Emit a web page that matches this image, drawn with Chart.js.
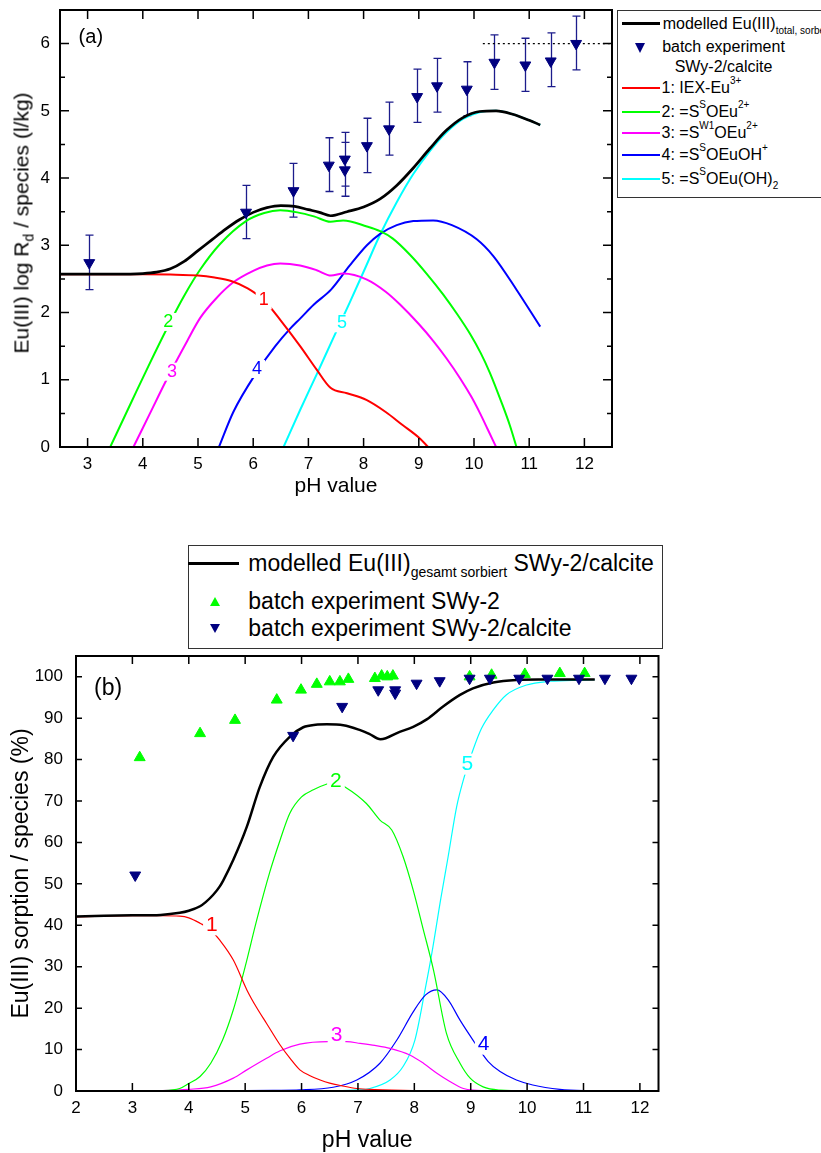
<!DOCTYPE html>
<html><head><meta charset="utf-8">
<script src="https://cdn.jsdelivr.net/npm/chart.js@4.4.1/dist/chart.umd.min.js"></script>
<style>
html,body{margin:0;padding:0;background:#fff;overflow:hidden;width:821px;height:1153px;}
body{position:relative;font-family:'Liberation Sans',Arial,Helvetica,sans-serif;color:#000;}
canvas{position:absolute;left:0;}
#cA{top:0;} #cB{top:520px;}
.abs{position:absolute;white-space:nowrap;}
.box{position:absolute;border:1px solid #333;background:#fff;}
.ln{position:absolute;}
.la{font-size:16px;line-height:20px;}
.lb{font-size:23px;line-height:28px;}
.sp{font-size:10px;vertical-align:9px;line-height:0;}
.sb{font-size:10px;vertical-align:-5px;line-height:0;}
.tri{position:absolute;width:0;height:0;}
</style>
</head>
<body>
<canvas id="cA" width="821" height="520"></canvas>
<canvas id="cB" width="821" height="645"></canvas>

<div class="abs" style="left:21px;top:222.5px;font-size:21px;line-height:21px;transform:translate(-50%,-50%) rotate(-90deg);">Eu(III) log R<span style="font-size:14px;vertical-align:-5px;line-height:0">d</span> / species (l/kg)</div>

<!-- legend (a) -->
<div class="box" style="left:617px;top:10px;width:260px;height:186px;"></div>
<div class="ln" style="left:622px;top:22px;width:38px;height:3px;background:#000"></div>
<div class="abs la" style="left:662.7px;top:13.8px">modelled Eu(III)<span class="sb">total, sorbed</span></div>
<div class="tri" style="left:634.5px;top:43px;border-left:5.5px solid transparent;border-right:5.5px solid transparent;border-top:10px solid #000080"></div>
<div class="abs la" style="left:662px;top:37px;width:123px;text-align:center;line-height:20px">batch experiment<br>SWy-2/calcite</div>
<div class="ln" style="left:622px;top:87.3px;width:38px;height:2px;background:#ff0000"></div>
<div class="abs la" style="left:661.5px;top:78.3px">1: IEX-Eu<span class="sp">3+</span></div>
<div class="ln" style="left:622px;top:110.7px;width:38px;height:2px;background:#00ff00"></div>
<div class="abs la" style="left:661.5px;top:101.7px">2: =S<span class="sp">S</span>OEu<span class="sp">2+</span></div>
<div class="ln" style="left:622px;top:132.3px;width:38px;height:2px;background:#ff00ff"></div>
<div class="abs la" style="left:661.5px;top:123.3px">3: =S<span class="sp">W1</span>OEu<span class="sp">2+</span></div>
<div class="ln" style="left:622px;top:154px;width:38px;height:2px;background:#0000ff"></div>
<div class="abs la" style="left:661.5px;top:145px">4: =S<span class="sp">S</span>OEuOH<span class="sp">+</span></div>
<div class="ln" style="left:622px;top:178.3px;width:38px;height:2px;background:#00ffff"></div>
<div class="abs la" style="left:661.5px;top:169.3px">5: =S<span class="sp">S</span>OEu(OH)<span class="sb">2</span></div>

<!-- legend (b) -->
<div class="box" style="left:188px;top:545px;width:473px;height:102px;"></div>
<div class="ln" style="left:188px;top:562px;width:51px;height:2.5px;background:#000"></div>
<div class="abs lb" style="left:248.3px;top:549.3px">modelled Eu(III)<span style="font-size:14px;vertical-align:-6px;line-height:0">gesamt sorbiert</span> SWy-2/calcite</div>
<div class="tri" style="left:209.5px;top:597px;border-left:5.5px solid transparent;border-right:5.5px solid transparent;border-bottom:9.5px solid #00ff00"></div>
<div class="abs lb" style="left:248.3px;top:587px">batch experiment SWy-2</div>
<div class="tri" style="left:209.5px;top:623.5px;border-left:5.5px solid transparent;border-right:5.5px solid transparent;border-top:9.5px solid #000080"></div>
<div class="abs lb" style="left:248.3px;top:613.8px">batch experiment SWy-2/calcite</div>

<script>
// ================= DATA: panel (a) =================
const A_X_TICKS = [3,4,5,6,7,8,9,10,11,12];
const A_Y_TICKS = [0,1,2,3,4,5,6];
const A_Y_MINOR = [0.5,1.5,2.5,3.5,4.5,5.5];

const A_TOTAL_PH = [2.5,3.0,3.5,4.0,4.25,4.5,4.75,5.0,5.25,5.5,5.75,6.0,6.25,6.5,6.75,7.0,7.2,7.4,7.7,8.0,8.3,8.6,8.9,9.2,9.5,9.8,10.1,10.4,10.7,11.0,11.2];
const A_TOTAL    = [2.57,2.57,2.57,2.58,2.60,2.65,2.76,2.92,3.08,3.24,3.38,3.49,3.56,3.59,3.58,3.53,3.49,3.44,3.50,3.57,3.69,3.89,4.15,4.44,4.71,4.90,4.99,5.00,4.95,4.86,4.79];

const A_IEX_PH = [2.5,3,3.5,4,4.5,5.0,5.3,5.6,5.9,6.2,6.5,6.85,7.15,7.4,7.7,8.05,8.4,8.7,9.0,9.17];
const A_IEX    = [2.57,2.57,2.57,2.57,2.565,2.55,2.52,2.47,2.36,2.18,1.88,1.50,1.15,0.88,0.80,0.70,0.52,0.33,0.14,0];

const A_SSOEU_PH = [3.41,3.8,4.1,4.46,4.75,5.04,5.4,5.87,6.2,6.49,6.8,7.1,7.4,7.63,8.06,8.3,8.53,8.84,9.14,9.44,9.7,9.93,10.12,10.29,10.5,10.65,10.77];
const A_SSOEU    = [0,0.68,1.2,1.80,2.25,2.64,3.02,3.36,3.48,3.52,3.49,3.43,3.35,3.37,3.28,3.21,3.10,2.86,2.58,2.27,1.97,1.68,1.40,1.10,0.66,0.32,0];

const A_SW1_PH = [3.83,4.13,4.43,4.8,5.04,5.34,5.64,6.0,6.25,6.49,6.85,7.15,7.41,7.63,8.06,8.4,8.66,9.0,9.26,9.5,9.75,9.95,10.11,10.25,10.4];
const A_SW1    = [0,0.5,1.0,1.57,1.92,2.22,2.45,2.62,2.70,2.73,2.70,2.63,2.55,2.58,2.49,2.31,2.12,1.83,1.58,1.32,1.02,0.75,0.50,0.26,0];

const A_SSOEUOH_PH = [5.38,5.64,6.07,6.4,6.67,6.85,7.1,7.41,7.75,8.06,8.3,8.6,8.9,9.26,9.6,10.05,10.35,10.77,11.2];
const A_SSOEUOH    = [0,0.52,1.12,1.50,1.76,1.91,2.12,2.34,2.70,3.00,3.17,3.30,3.36,3.37,3.30,3.09,2.84,2.34,1.79];

const A_SSOEUOH2_PH = [6.55,6.85,7.15,7.45,7.75,8.05,8.3,8.6,8.9,9.2,9.5,9.8,10.1,10.4,10.7,11.0,11.2];
const A_SSOEUOH2    = [0,0.55,1.08,1.62,2.15,2.70,3.16,3.64,4.06,4.40,4.68,4.88,4.98,5.00,4.95,4.86,4.79];

const A_EXP_PH = [3.03,5.87,6.73,7.37,7.66,7.66,8.06,8.46,8.97,9.33,9.87,10.37,10.93,11.39,11.85];
const A_EXP    = [2.74,3.49,3.81,4.19,4.28,4.12,4.48,4.73,5.21,5.37,5.32,5.72,5.68,5.74,6.00];
const A_EXP_HI = [3.15,3.89,4.22,4.60,4.68,4.53,4.89,5.13,5.62,5.78,5.73,6.13,6.08,6.16,6.41];
const A_EXP_LO = [2.34,3.10,3.42,3.80,3.88,3.73,4.08,4.34,4.83,4.98,4.93,5.32,5.29,5.36,5.61];

const A_REF_PH = [10.16,12.5];
const A_REF    = [6,6];

const A_LABEL_TEXT = ['1','2','3','4','5'];
const A_LABEL_PH   = [6.19,4.46,4.53,6.07,7.61];
const A_LABEL_VAL  = [2.18,1.86,1.12,1.16,1.84];

// ================= DATA: panel (b) =================
const B_X_TICKS = [2,3,4,5,6,7,8,9,10,11,12];
const B_Y_TICKS = [0,10,20,30,40,50,60,70,80,90,100];

const B_TOTAL_PH = [2,2.5,3,3.5,3.84,4.0,4.2,4.3,4.43,4.55,4.61,4.79,5.03,5.26,5.5,5.79,6.03,6.25,6.45,6.74,7.04,7.2,7.4,7.74,7.98,8.22,8.51,8.81,9.04,9.4,9.81,10.2,10.6,11.0,11.2];
const B_TOTAL    = [42.1,42.3,42.4,42.5,43.0,43.5,44.6,45.6,47.3,49.4,50.8,55.8,63.8,73.4,80.7,85.5,87.8,88.4,88.5,88.3,87.1,86.2,84.9,86.7,87.9,89.7,92.8,95.6,97.2,98.6,99.2,99.3,99.3,99.3,99.3];

const B_IEX_PH = [2,2.5,3,3.5,3.84,4.0,4.2,4.38,4.55,4.79,5.03,5.2,5.38,5.62,5.8,5.97,6.15,6.33,6.5,6.7,6.98,7.3,7.6,7.98,8.5,9,10,11,12];
const B_IEX    = [42.0,42.2,42.3,42.3,42.2,41.8,40.5,39.0,36.4,31.6,24.4,20.2,16.3,11.1,7.8,5.1,3.7,2.65,1.9,1.3,0.6,0.35,0.2,0.1,0.05,0,0,0,0];

const B_SSOEU_PH = [2,3,3.5,3.84,4.0,4.2,4.39,4.6,4.79,5.0,5.2,5.44,5.62,5.79,6.0,6.21,6.45,6.6,6.77,7.15,7.39,7.6,7.8,7.98,8.16,8.34,8.57,8.81,8.99,9.22,9.52,10,11,12];
const B_SSOEU    = [0,0.02,0.1,0.6,1.8,3.5,6.7,12.3,19.6,30,41,53,60.6,67,71,72.7,74.1,74.5,73.4,69.4,65.4,63,56.6,48.5,38.9,29.2,13.9,6.7,3.1,1.0,0.2,0,0,0];

const B_SW1_PH = [2,3,3.5,4.0,4.39,4.79,5.03,5.38,5.62,5.97,6.47,6.8,7.04,7.3,7.57,7.92,8.16,8.4,8.63,8.87,9.04,9.5,10,11,12];
const B_SW1    = [0,0.02,0.1,0.4,1.0,3.1,5.1,7.9,9.7,11.3,11.9,11.9,11.5,11.0,10.3,8.7,6.7,4.3,2.3,0.6,0.2,0.05,0,0,0];

const B_SSOEUOH_PH = [2,3,4,5,5.5,5.97,6.56,6.98,7.39,7.69,7.98,8.2,8.4,8.6,8.81,9.04,9.31,9.52,9.81,10.1,10.58,11,12];
const B_SSOEUOH    = [0,0,0.02,0.08,0.15,0.25,0.9,2.65,6.7,12.3,19.1,23.2,24.4,22.0,17.1,12.3,7.1,4.7,2.65,1.45,0.4,0.1,0];

const B_SSOEUOH2_PH = [2,3,4,5,6,6.5,7.0,7.21,7.57,7.8,8.01,8.19,8.31,8.47,8.6,8.75,8.87,9.04,9.19,9.4,9.63,9.99,10.4,11.0,11.2];
const B_SSOEUOH2    = [0,0,0,0,0.02,0.08,0.3,0.6,2.65,5.9,12.3,24.4,33.2,46.5,56.6,68.6,75.1,82.3,87.5,92,95.6,98,98.9,99.2,99.3];

const B_SWY2_PH = [3.13,4.2,4.82,5.56,5.99,6.27,6.5,6.68,6.83,7.3,7.42,7.52,7.62,8.98,9.37,9.96,10.58,11.02];
const B_SWY2    = [80.5,86.3,89.5,94.4,96.8,98.2,98.8,98.8,99.4,99.6,100.2,100.0,100.2,100.0,100.4,100.6,100.8,100.8];

const B_CALC_PH = [3.05,5.85,6.72,7.36,7.66,7.66,8.04,8.45,8.98,9.34,9.86,10.36,10.92,11.38,11.85];
const B_CALC    = [52.1,85.8,92.8,96.8,96.8,96.0,98.4,99.0,99.6,99.6,99.6,99.6,99.6,99.6,99.6];

const B_LABEL_TEXT = ['1','2','3','4','5'];
const B_LABEL_PH   = [4.41,6.61,6.62,9.23,8.94];
const B_LABEL_VAL  = [40.1,74.7,13.5,11.3,78.9];

// ================= STYLE / HELPERS =================
const FONT = "'Liberation Sans', Arial, Helvetica, sans-serif";
const NAVY = '#000080';
const SPECIES_COLORS = ['#ff0000','#00ff00','#ff00ff','#0000ff','#00ffff'];
Chart.defaults.font.family = FONT;
Chart.defaults.color = '#000';

function xy(xs, ys){ return xs.map((x,i)=>({x:x, y:ys[i]})); }
function lineDS(label, xs, ys, color, width, order, dash){
  return {label, data: xy(xs,ys), showLine:true, borderColor:color, backgroundColor:color,
    borderWidth:width, pointRadius:0, pointHoverRadius:0, fill:false,
    cubicInterpolationMode:'monotone', borderDash: dash || [], order};
}
function pointDS(label, xs, ys, color, rot, order){
  return {label, data: xy(xs,ys), showLine:false, pointStyle:'triangle', pointRotation:rot,
    pointRadius:6.3, pointHoverRadius:6.3, pointBackgroundColor:color, pointBorderColor:color,
    pointBorderWidth:1, backgroundColor:color, borderColor:color, order};
}

const decor = {
  id:'decor',
  beforeDatasetsDraw(chart, args, o){
    if(!o.err) return;
    const ctx = chart.ctx, xs = chart.scales.x, ys = chart.scales.y, e = o.err;
    ctx.save();
    ctx.strokeStyle = e.color; ctx.lineWidth = e.width;
    ctx.beginPath();
    e.x.forEach((v,i)=>{
      const px = Math.round(xs.getPixelForValue(v)) + 0.5;
      const ph = ys.getPixelForValue(e.hi[i]), pl = ys.getPixelForValue(e.lo[i]);
      ctx.moveTo(px, ph); ctx.lineTo(px, pl);
      ctx.moveTo(px - e.cap, ph); ctx.lineTo(px + e.cap, ph);
      ctx.moveTo(px - e.cap, pl); ctx.lineTo(px + e.cap, pl);
    });
    ctx.stroke();
    ctx.restore();
  },
  afterDatasetsDraw(chart, args, o){
    const ctx = chart.ctx, ca = chart.chartArea, xs = chart.scales.x, ys = chart.scales.y;
    ctx.save();
    // curve labels
    ctx.font = o.labelFont + 'px ' + FONT;
    ctx.textAlign = 'center'; ctx.textBaseline = 'middle';
    o.labels.text.forEach((t,i)=>{
      const px = xs.getPixelForValue(o.labels.x[i]), py = ys.getPixelForValue(o.labels.y[i]);
      const w = ctx.measureText(t).width;
      ctx.fillStyle = '#fff';
      ctx.fillRect(px - w/2 - 3, py - o.labelFont*0.5, w + 6, o.labelFont*1.0);
      ctx.fillStyle = o.labels.color[i];
      ctx.fillText(t, px, py);
    });
    // frame
    ctx.strokeStyle = '#000'; ctx.lineWidth = o.frame;
    ctx.strokeRect(ca.left, ca.top, ca.right - ca.left, ca.bottom - ca.top);
    ctx.lineWidth = o.tickWidth;
    ctx.beginPath();
    o.xTicks.forEach(v=>{
      const p = xs.getPixelForValue(v);
      ctx.moveTo(p, ca.bottom); ctx.lineTo(p, ca.bottom - o.xLen);
      ctx.moveTo(p, ca.top); ctx.lineTo(p, ca.top + o.xLen);
    });
    o.yTicks.forEach(v=>{
      const p = ys.getPixelForValue(v);
      ctx.moveTo(ca.left, p); ctx.lineTo(ca.left + o.yLen, p);
      ctx.moveTo(ca.right, p); ctx.lineTo(ca.right - o.yLen, p);
    });
    (o.yMinor || []).forEach(v=>{
      const p = ys.getPixelForValue(v);
      ctx.moveTo(ca.left, p); ctx.lineTo(ca.left + o.yMinorLen, p);
      ctx.moveTo(ca.right, p); ctx.lineTo(ca.right - o.yMinorLen, p);
    });
    ctx.stroke();
    // panel label
    ctx.font = o.panel.size + 'px ' + FONT;
    ctx.textAlign = 'left'; ctx.textBaseline = 'alphabetic'; ctx.fillStyle = '#000';
    ctx.fillText(o.panel.text, o.panel.x, o.panel.y);
    ctx.restore();
  }
};

// ================= CHART (a) =================
new Chart(document.getElementById('cA'), {
  type:'scatter',
  data:{ datasets:[
    pointDS('batch experiment SWy-2/calcite', A_EXP_PH, A_EXP, NAVY, 180, 0),
    lineDS('modelled Eu(III) total, sorbed', A_TOTAL_PH, A_TOTAL, '#000', 2.7, 1),
    lineDS('1: IEX-Eu3+', A_IEX_PH, A_IEX, SPECIES_COLORS[0], 2, 2),
    lineDS('2: =SSOEu2+', A_SSOEU_PH, A_SSOEU, SPECIES_COLORS[1], 2, 3),
    lineDS('3: =SW1OEu2+', A_SW1_PH, A_SW1, SPECIES_COLORS[2], 2, 4),
    lineDS('4: =SSOEuOH+', A_SSOEUOH_PH, A_SSOEUOH, SPECIES_COLORS[3], 2, 5),
    lineDS('5: =SSOEu(OH)2', A_SSOEUOH2_PH, A_SSOEUOH2, SPECIES_COLORS[4], 2, 6),
    lineDS('reference', A_REF_PH, A_REF, '#000', 1.3, 7, [2,3])
  ]},
  options:{
    responsive:false, animation:false, devicePixelRatio:1,
    layout:{padding:{top:10, right:209, left:0, bottom:0}},
    plugins:{
      legend:{display:false}, tooltip:{enabled:false},
      decor:{
        err:{x:A_EXP_PH, hi:A_EXP_HI, lo:A_EXP_LO, color:'#1c1c8c', width:1.3, cap:4},
        labels:{text:A_LABEL_TEXT, x:A_LABEL_PH, y:A_LABEL_VAL, color:SPECIES_COLORS},
        labelFont:18, frame:2, tickWidth:1.5,
        xTicks:A_X_TICKS, xLen:9, yTicks:A_Y_TICKS, yLen:9, yMinor:A_Y_MINOR, yMinorLen:5,
        panel:{text:'(a)', x:78.6, y:42.6, size:20}
      }
    },
    scales:{
      x:{type:'linear', min:2.5, max:12.5,
        grid:{display:false, drawTicks:false}, border:{display:false},
        afterBuildTicks:s=>{ s.ticks = A_X_TICKS.map(v=>({value:v})); },
        afterFit:s=>{ s.height = 73; s.paddingLeft = 0; s.paddingRight = 0; },
        ticks:{font:{size:17}, color:'#000', padding:7, maxRotation:0, autoSkip:false},
        title:{display:true, text:'pH value', font:{size:21}, color:'#000', padding:{top:0, bottom:21.4}}
      },
      y:{type:'linear', min:0, max:6.5,
        grid:{display:false, drawTicks:false}, border:{display:false},
        afterBuildTicks:s=>{ s.ticks = A_Y_TICKS.map(v=>({value:v})); },
        afterFit:s=>{ s.width = 60; s.paddingTop = 0; s.paddingBottom = 0; },
        ticks:{font:{size:17}, color:'#000', padding:10, autoSkip:false},
        title:{display:false}
      }
    }
  },
  plugins:[decor]
});

// ================= CHART (b) =================
new Chart(document.getElementById('cB'), {
  type:'scatter',
  data:{ datasets:[
    pointDS('batch experiment SWy-2/calcite', B_CALC_PH, B_CALC, NAVY, 180, 0),
    pointDS('batch experiment SWy-2', B_SWY2_PH, B_SWY2, '#00ff00', 0, 1),
    lineDS('modelled Eu(III) gesamt sorbiert SWy-2/calcite', B_TOTAL_PH, B_TOTAL, '#000', 2.5, 2),
    lineDS('1', B_IEX_PH, B_IEX, SPECIES_COLORS[0], 1.2, 3),
    lineDS('2', B_SSOEU_PH, B_SSOEU, SPECIES_COLORS[1], 1.2, 4),
    lineDS('3', B_SW1_PH, B_SW1, SPECIES_COLORS[2], 1.2, 5),
    lineDS('4', B_SSOEUOH_PH, B_SSOEUOH, SPECIES_COLORS[3], 1.2, 6),
    lineDS('5', B_SSOEUOH2_PH, B_SSOEUOH2, SPECIES_COLORS[4], 1.2, 7)
  ]},
  options:{
    responsive:false, animation:false, devicePixelRatio:1,
    layout:{padding:{top:136, right:162.5, left:0, bottom:0}},
    plugins:{
      legend:{display:false}, tooltip:{enabled:false},
      decor:{
        labels:{text:B_LABEL_TEXT, x:B_LABEL_PH, y:B_LABEL_VAL, color:SPECIES_COLORS},
        labelFont:21, frame:2, tickWidth:1.5,
        xTicks:B_X_TICKS, xLen:8, yTicks:B_Y_TICKS, yLen:6,
        panel:{text:'(b)', x:94, y:175.2, size:23}
      }
    },
    scales:{
      x:{type:'linear', min:2, max:12.33,
        grid:{display:false, drawTicks:false}, border:{display:false},
        afterBuildTicks:s=>{ s.ticks = B_X_TICKS.map(v=>({value:v})); },
        afterFit:s=>{ s.height = 74; s.paddingLeft = 0; s.paddingRight = 0; },
        ticks:{font:{size:17}, color:'#000', padding:7, maxRotation:0, autoSkip:false},
        title:{display:true, text:'pH value', font:{size:23}, color:'#000', padding:{top:0, bottom:10.6}}
      },
      y:{type:'linear', min:0, max:105,
        grid:{display:false, drawTicks:false}, border:{display:false},
        afterBuildTicks:s=>{ s.ticks = B_Y_TICKS.map(v=>({value:v})); },
        afterFit:s=>{ s.width = 76; s.paddingTop = 0; s.paddingBottom = 0; },
        ticks:{font:{size:17}, color:'#000', padding:13, autoSkip:false},
        title:{display:true, text:'Eu(III) sorption / species (%)', font:{size:23}, color:'#000', padding:{top:7.5, bottom:0}}
      }
    }
  },
  plugins:[decor]
});
</script>
</body></html>
